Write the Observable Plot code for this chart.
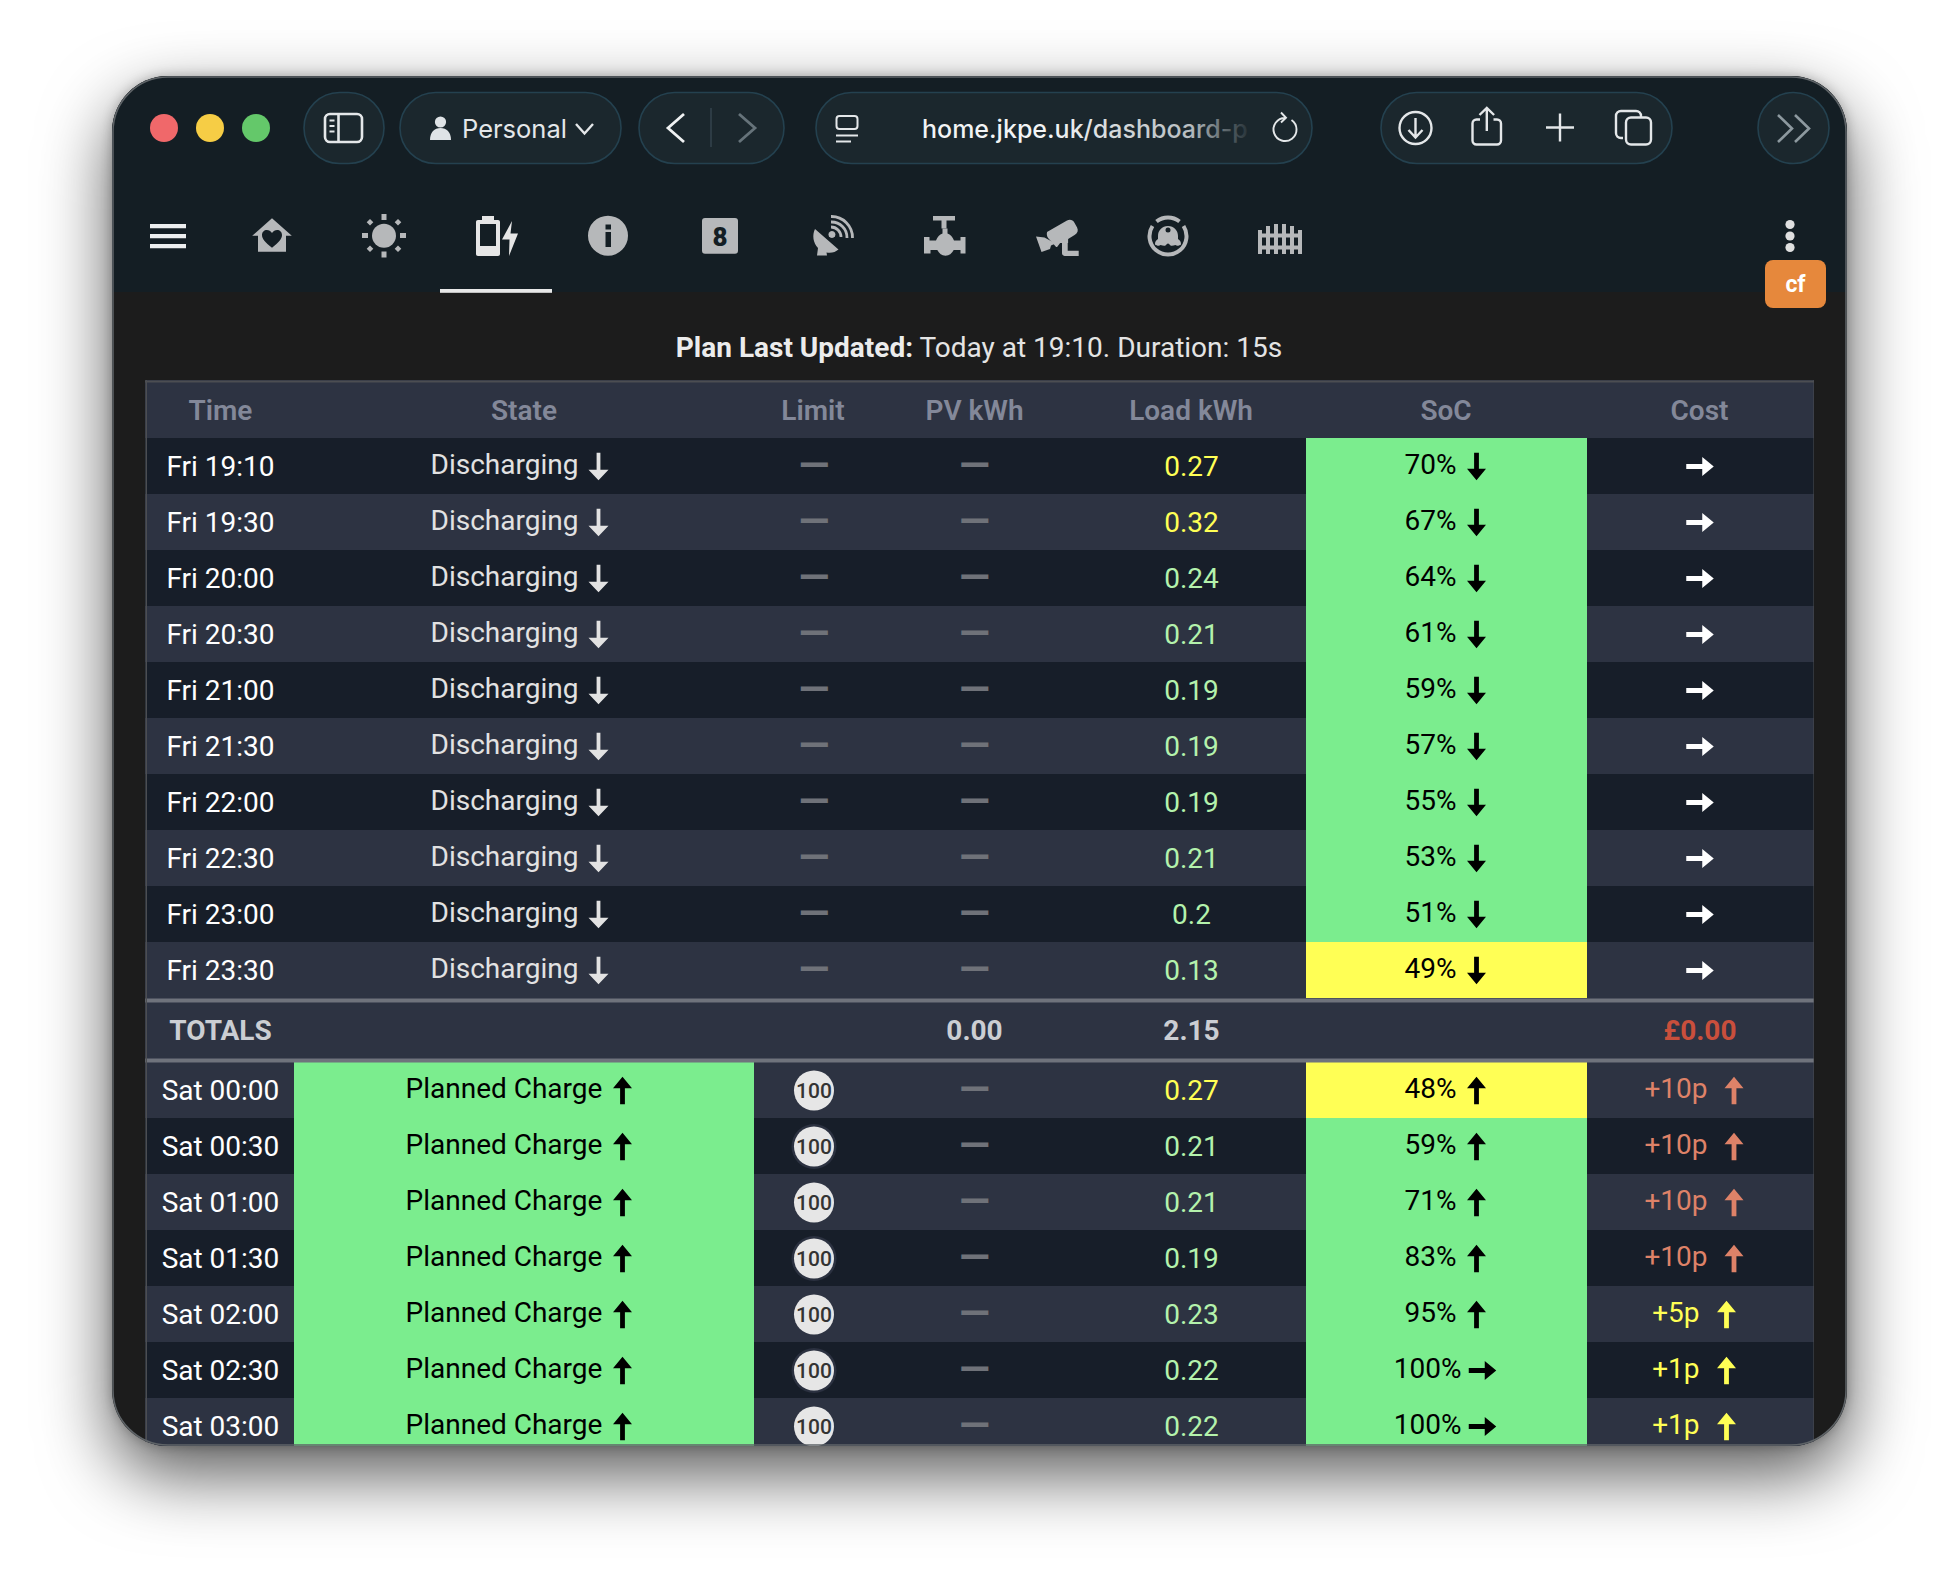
<!DOCTYPE html>
<html><head><meta charset="utf-8">
<script src="https://cdn.jsdelivr.net/npm/d3@7"></script>
<script src="https://cdn.jsdelivr.net/npm/@observablehq/plot@0.6"></script>
<style>
html,body{margin:0;padding:0;background:#fff;}
body{width:1958px;height:1594px;position:relative;overflow:hidden;font-family:Roboto,sans-serif;}
#win{position:absolute;left:112px;top:76px;width:1735px;height:1370px;border-radius:56px;background:#1c1c1c;
 box-shadow:0 28px 70px rgba(0,0,0,.66),0 0 12px rgba(0,0,0,.25);overflow:hidden;}
#chrome{position:absolute;left:0;top:0;pointer-events:none;}
#plan{position:absolute;left:0;width:1958px;top:328px;text-align:center;font-size:28px;line-height:40px;color:#e4e4e4;}
#plan b{font-weight:700;color:#ececec;}
#table{position:absolute;left:32.500px;top:304px;}
#table svg{display:block;}
#table g[aria-label="totals"]{filter:drop-shadow(0 2px 2px rgba(0,0,0,.65));}
</style></head><body>
<div id="win"><div id="table"></div></div>
<svg id="chrome" width="1958" height="1594" viewBox="0 0 1958 1594" font-family="Inter,Roboto,sans-serif">
 <defs>
  <linearGradient id="fade" gradientUnits="userSpaceOnUse" x1="1050" x2="1250" y1="0" y2="0"><stop offset="0" stop-color="#f2f4f5"/><stop offset=".35" stop-color="#d3d8da"/><stop offset=".7" stop-color="#b8bec1"/><stop offset="1" stop-color="#b8bec1" stop-opacity=".05"/></linearGradient>
  <clipPath id="wclip"><rect x="112" y="76" width="1735" height="1370" rx="56"/></clipPath>
 </defs>
 <g clip-path="url(#wclip)"><rect x="112" y="76" width="1735" height="216" fill="#141e24"/></g>
 <circle cx="164" cy="128" r="14" fill="#f0686a"/><circle cx="210" cy="128" r="14" fill="#f6cd45"/><circle cx="256" cy="128" r="14" fill="#64c86a"/>
 <g fill="#1b272d" stroke="#24414f" stroke-width="1.6">
  <rect x="304" y="92.5" width="80" height="71" rx="35.5"/><rect x="400" y="92.5" width="221" height="71" rx="35.5"/>
  <rect x="639" y="92.5" width="145" height="71" rx="35.5"/><rect x="816" y="92.5" width="496" height="71" rx="35.5"/>
  <rect x="1381" y="92.5" width="291" height="71" rx="35.5"/><rect x="1758" y="92.5" width="71" height="71" rx="35.5"/>
 </g>
 <!-- sidebar -->
 <g fill="none" stroke="#e4e7e9" stroke-width="2.6"><rect x="325" y="114" width="37" height="28" rx="5"/><path d="M338.5 114v28"/><path d="M329.5 120.5h5M329.5 126h5M329.5 131.5h5" stroke-width="2"/></g>
 <!-- personal -->
 <circle cx="440.5" cy="122" r="5.6" fill="#dfe3e6"/><path d="M430 140c0-8 4.500-12 10.500-12s10.500 4 10.500 12z" fill="#dfe3e6"/>
 <text x="462" y="138" font-size="25.500" fill="#e4e7e9" font-family="Inter">Personal</text>
 <path d="M576 124l8.500 9.500 8.500-9.500" fill="none" stroke="#e4e7e9" stroke-width="2.400"/>
 <path d="M684 114l-16 14 16 14" fill="none" stroke="#f0f2f3" stroke-width="2.800"/>
 <path d="M711 108v39" stroke="#33424b" stroke-width="1.600"/>
 <path d="M739 114l16 14-16 14" fill="none" stroke="#66737a" stroke-width="2.800"/>
 <!-- site -->
 <g fill="none" stroke="#e4e7e9" stroke-width="2"><rect x="836.500" y="116" width="21" height="13" rx="3"/><path d="M836 135.500h22M836 141.500h15"/></g>
 <text x="922" y="138" font-size="25" fill="url(#fade)" font-family="Inter" font-weight="500">home.jkpe.uk/dashboard-p</text>
 <path d="M1291.500 120A11.500 11.500 0 1 1 1285 118M1281 112.500l5 5.300-5 4.700" fill="none" stroke="#e4e7e9" stroke-width="1.900"/>
 <!-- actions -->
 <g fill="none" stroke="#e4e7e9" stroke-width="2.400">
  <circle cx="1415.500" cy="128" r="16"/><path d="M1415.500 118v19M1408.500 130l7 7.500 7-7.500"/>
  <path d="M1480 119.500h-3.500a4 4 0 0 0-4 4v17a4 4 0 0 0 4 4h20.500a4 4 0 0 0 4-4v-17a4 4 0 0 0-4-4h-3.500M1486.800 131v-23M1479.500 115l7.300-7 7.300 7"/>
  <path d="M1546 127.500h28M1560 113.500v28"/>
  <rect x="1626" y="117.500" width="25" height="27" rx="5"/><path d="M1623 138h-2a5 5 0 0 1-5-5v-17a5 5 0 0 1 5-5h15a5 5 0 0 1 5 5v1"/>
 </g>
 <path d="M1778 115l14 13.500-14 13.500M1795 115l14 13.500-14 13.500" fill="none" stroke="#8d999f" stroke-width="2.600"/>
 <!-- hamburger -->
 <path d="M150 224h36v4.200h-36zM150 234h36v4.200h-36zM150 244h36v4.200h-36z" fill="#eceeef"/>
 <!-- nav icons -->
 <g fill="#b6b8ba">
  <path fill-rule="evenodd" d="M272 218.300l19.800 17.500h-5.800v16h-28v-16h-5.800zM272 247.700c-7-5.500-10-9-10-12.700 0-3 2.200-5 4.900-5 2 0 3.800 1.200 5.100 3 1.300-1.800 3.100-3 5.100-3 2.700 0 4.900 2 4.900 5 0 3.700-3 7.200-10 12.700z"/>
  <circle cx="384" cy="235.700" r="12"/>
  <path d="M381.500 214h5v6h-5zM381.500 251.500h5v6h-5zM362 233h6v5h-6zM400 233h6v5h-6zM370 219l3.300 3.300-3.300 3.300-3.300-3.300zM398 219l3.300 3.300-3.300 3.300-3.300-3.300zM370 245.500l3.300 3.300-3.300 3.300-3.300-3.300zM398 245.500l3.300 3.300-3.300 3.300-3.300-3.300z"/>
  <path fill-rule="evenodd" d="M588 235.700a20 20 0 1 1 40 0a20 20 0 1 1-40 0zM605.500 224.500h5.500v5h-5.500zM605.500 232h5.500v15h-5.500z"/>
  <rect x="702" y="218" width="36" height="35.700" rx="3"/>
  <!-- satellite -->
  <path d="M815 229c-3 6-2 14 3 19l-1 7.500h10l-.5-3c5 1 9-.5 12-3z"/>
  <path d="M832 231a3.500 3.500 0 1 1-.1 0z"/>
 </g>
 <g fill="none" stroke="#b6b8ba" stroke-width="2.800">
  <path d="M829 225a10 10 0 0 1 10 10M829 220a15.500 15.500 0 0 1 16 16M829 214.500a21 21 0 0 1 21.500 21.500" transform="translate(2 2)"/>
 </g>
 <text x="720" y="245.500" text-anchor="middle" font-family="Roboto" font-weight="900" font-size="26" fill="#141e24">8</text>
 <g fill="#b6b8ba">
  <!-- valve -->
  <path d="M933 216h22v4.500h-8.500v8h-5v-8H933z"/>
  <path d="M924 237h5.500v3.500h6.500c1.500-3.500 3.500-6 6.500-7v-5h5v5c3 1 5 3.500 6.500 7h6.500V237h5v16.500h-5V250h-6.800c-1.700 3.500-4.700 5.700-8.200 5.700s-6.500-2.200-8.200-5.700h-6.800v3.500H924z"/>
  <!-- camera -->
  <path d="M1036 236.500l8.500 1 11 6-4.500 2-1 3.500-8.500 3z"/>
  <path d="M1047 232l20-11.500c3-1.500 6-.5 7.300 2l2.800 5c1.500 3 .5 5.500-2.500 7.500l-6.500 4v4h-8l-3 4-1 0-8-9c-1.500-2-1.500-4.500-1-6z"/>
  <path d="M1062 241h5.700v9.700h11v5.200h-14c-1.500 0-2.700-1.200-2.700-2.700z"/>
 </g>
 <!-- robot -->
 <g fill="none" stroke="#b6b8ba" stroke-width="4">
  <path d="M1156.500 221.500a18.500 18.500 0 0 1 23 0M1183.500 226A18.500 18.500 0 1 1 1152.500 226"/>
 </g>
 <path d="M1168 226c6 0 10 4.500 10 10v3c2.500 1.500 3 3 3 5.500-1.500 1-4 2-5.500.5-2 .5-3.500 1-5 .5-1-1-1.500-2-2.500-2s-1.500 1-2.500 2c-1.500.5-3 0-5-.5-1.500 1.500-4 .5-5.500-.5 0-2.500.5-4 3-5.500v-3c0-5.500 4-10 10-10z" fill="#b6b8ba"/>
 <circle cx="1168" cy="230" r="2.500" fill="#141e24"/>
 <!-- fence -->
 <g fill="#b6b8ba">
  <rect x="1258" y="230" width="4" height="24"/><rect x="1266" y="226" width="4" height="28"/><rect x="1274" y="224" width="4" height="30"/>
  <rect x="1282" y="224" width="4" height="30"/><rect x="1290" y="226" width="4" height="28"/><rect x="1298" y="230" width="4" height="24"/>
  <rect x="1258" y="233.500" width="44" height="4"/><rect x="1258" y="245.500" width="44" height="4"/>
 </g>
 <!-- battery -->
 <path fill="#e6e6e6" fill-rule="evenodd" d="M482 216h12v4h4c1.200 0 2 .8 2 2v32c0 1.200-.8 2-2 2h-20c-1.200 0-2-.8-2-2v-32c0-1.200.8-2 2-2h4zM480 224v22h16v-22z"/>
 <path fill="#e6e6e6" d="M512 221l-10 18.500h7.500l-.5 16.500 9-22.500h-7.500z"/>
 <rect x="440" y="289" width="112" height="3.800" fill="#e8e8e8"/>
 <circle cx="1790" cy="224.500" r="4.600" fill="#e0e0e0"/><circle cx="1790" cy="236" r="4.600" fill="#e0e0e0"/><circle cx="1790" cy="247.500" r="4.600" fill="#e0e0e0"/>
</svg>
<div id="plan"><b>Plan Last Updated:</b> Today at 19:10. Duration: 15s</div>
<svg id="badge" width="1958" height="1594" viewBox="0 0 1958 1594" style="position:absolute;left:0;top:0;pointer-events:none">
 <rect x="113" y="77" width="1733" height="1368" rx="55" fill="none" stroke="#5f6468" stroke-width="1.5"/>
 <rect x="1765" y="260" width="61" height="48" rx="8" fill="#e6883c"/>
 <text x="1795.500" y="292" text-anchor="middle" font-family="Roboto" font-weight="700" font-size="23" fill="#fff">cf</text>
</svg>
<script>
// ---- chart data ----
const columnTitles = ["Time", "State", "Limit", "PV kWh", "Load kWh", "SoC", "Cost"];
const friTimes = ["Fri 19:10","Fri 19:30","Fri 20:00","Fri 20:30","Fri 21:00","Fri 21:30","Fri 22:00","Fri 22:30","Fri 23:00","Fri 23:30"];
const friLoad = ["0.27","0.32","0.24","0.21","0.19","0.19","0.19","0.21","0.2","0.13"];
const friSoc = [70,67,64,61,59,57,55,53,51,49];
const satTimes = ["Sat 00:00","Sat 00:30","Sat 01:00","Sat 01:30","Sat 02:00","Sat 02:30","Sat 03:00"];
const satLoad = ["0.27","0.21","0.21","0.19","0.23","0.22","0.22"];
const satSoc = [48,59,71,83,95,100,100];
const satCost = [10,10,10,10,5,1,1];
const satLimit = [100,100,100,100,100,100,100];
const totalsLabel = "TOTALS", totalPv = "0.00", totalLoad = "2.15", totalCost = "£0.00";

// ---- table layout, in table pixels ----
const W = 1669.5, H = 1066;
const colX = {time:75, state:379, limit:668.5, pv:829, load:1046, soc:1300.5, cost:1554.5};
const colEdge = {state0:149, state1:609, soc0:1161, soc1:1442};
const HEAD = 58, ROW = 56, SEP = 4;
const friTop = i => HEAD + i * ROW;
const totTop = friTop(10) + SEP;
const satTop = i => totTop + ROW + SEP + i * ROW;

const rows = [
  ...friTimes.map((t,i) => ({section:"fri", t, top:friTop(i), load:friLoad[i], soc:friSoc[i], dir:180, shade:i%2===0})),
  ...satTimes.map((t,i) => ({section:"sat", t, top:satTop(i), load:satLoad[i], soc:satSoc[i], dir:satSoc[i]===100?90:0, cost:satCost[i], limit:satLimit[i], shade:i%2===1}))
];
rows.forEach(r => {r.mid = r.top + ROW/2; r.bot = r.top + ROW;});
const dark = "#171e29", light = "#2d3342", green = "#7bed8e", yellow = "#ffff55";
const socFill = s => (s > 49 ? green : yellow);
const arrowShape = {draw(c,l,r){const s=2.4,h=11.5;
  c.moveTo(0,-l);c.lineTo(r,-l+h);c.lineTo(s,-l+h);c.lineTo(s,0);c.lineTo(-s,0);c.lineTo(-s,-l+h);c.lineTo(-r,-l+h);c.closePath();}};
const thinArrowShape = {draw(c,l,r){const s=1.9,h=10.5;
  c.moveTo(0,-l);c.lineTo(r,-l+h);c.lineTo(s,-l+h);c.lineTo(s,0);c.lineTo(-s,0);c.lineTo(-s,-l+h);c.lineTo(-r,-l+h);c.closePath();}};
const costColor = p => p >= 10 ? "#de8268" : "#ffff55";
const socTextEnd = r => r.dir===90 ? 1316 : 1311;
const socArrowX = r => r.dir===90 ? 1337 : 1331;
const costTextEnd = r => r.cost>=10 ? 1562 : 1554;
const costArrowX = r => r.cost>=10 ? 1588.5 : 1581;
const titleX = [colX.time,378.5,667.5,829,1045.5,1300.5,1554];
const fri = rows.filter(r=>r.section==="fri"), sat = rows.filter(r=>r.section==="sat");
const font = {fontFamily:"Roboto", fontSize:28, lineAnchor:"middle"};
const dashStyle = {fill:"#6f7279",fontWeight:700,fontFamily:"Roboto",fontSize:40,lineAnchor:"middle"};
const dash = "—";
const NUDGE = 0.5;

const chart = Plot.plot({
  width:W, height:H, margin:0, style:{background:"transparent", fontFamily:"Roboto"},
  x:{domain:[0,W], range:[0,W], axis:null},
  y:{domain:[0,H], range:[0,H], axis:null},
  color:{type:"threshold", domain:[0.25], range:["#b4f2ac","#ffff55"]},
  marks:[
    // row bands
    Plot.rect([0],{x1:0,x2:W,y1:0,y2:H,fill:light}),
    Plot.rect(rows,{x1:0,x2:W,y1:"top",y2:"bot",fill:r=>r.shade?dark:light}),
    Plot.rect(sat,{x1:colEdge.state0,x2:colEdge.state1,y1:"top",y2:"bot",fill:green}),
    Plot.rect(rows,{x1:colEdge.soc0,x2:colEdge.soc1,y1:"top",y2:"bot",fill:r=>socFill(r.soc)}),
    // separators and table border
    Plot.ruleY([friTop(10)+SEP/2,totTop+ROW+SEP/2],{stroke:"#6f737c",strokeWidth:SEP}),
    Plot.ruleY([1],{stroke:"#4c4e52",strokeWidth:2}),
    Plot.ruleX([0.75],{stroke:"#4c4e52",strokeWidth:1.5}),
    Plot.ruleX([W-0.75],{stroke:"#4c4e52",strokeWidth:1.5}),
    // header
    Plot.text(columnTitles,{x:(d,i)=>titleX[i],y:()=>30,text:d=>d,fill:"#838899",fontWeight:600,dy:NUDGE,...font}),
    // time
    Plot.text(rows,{x:()=>colX.time,y:"mid",text:"t",fill:"#fff",dy:NUDGE,...font}),
    // state
    Plot.text(fri,{x:()=>285,y:"mid",text:()=>"Discharging",fill:"#e2e2e2",textAnchor:"start",dy:NUDGE-2,...font}),
    Plot.vector(fri,{x:()=>453,y:"mid",rotate:180,length:27.5,r:10,shape:thinArrowShape,fill:"#e2e2e2",stroke:"none"}),
    Plot.text(sat,{x:()=>260,y:"mid",text:()=>"Planned Charge",fill:"#000",textAnchor:"start",dy:NUDGE-2,...font}),
    Plot.vector(sat,{x:()=>477,y:"mid",rotate:0,length:27.5,r:9.5,shape:arrowShape,fill:"#000",stroke:"none"}),
    // limit
    Plot.text(fri,{x:()=>colX.limit,y:"mid",text:()=>dash,...dashStyle}),
    Plot.dot(sat.filter(r=>r.shade),{x:()=>colX.limit,y:"mid",r:22.5,fill:"#2b3140",stroke:"none"}),
    Plot.dot(sat,{x:()=>colX.limit,y:"mid",r:20,fill:"#e6e6e6",stroke:"none"}),
    Plot.text(sat,{x:()=>colX.limit,y:"mid",text:"limit",fill:"#333",fontWeight:500,fontFamily:"Roboto",fontSize:21,lineAnchor:"middle",dy:NUDGE}),
    // pv
    Plot.text(rows,{x:()=>colX.pv,y:"mid",text:()=>dash,...dashStyle}),
    // load
    Plot.text(rows,{x:()=>colX.load,y:"mid",text:"load",fill:r=>+r.load,dy:NUDGE,...font}),
    // soc
    Plot.text(rows,{x:socTextEnd,y:"mid",text:r=>r.soc+"%",fill:"#000",textAnchor:"end",dy:NUDGE-2,...font}),
    Plot.vector(rows,{x:socArrowX,y:"mid",rotate:"dir",length:27.5,r:9.5,shape:arrowShape,fill:"#000",stroke:"none"}),
    // cost
    Plot.vector(fri,{x:()=>colX.cost,y:"mid",rotate:90,length:27.5,r:9.5,shape:arrowShape,fill:"#fff",stroke:"none"}),
    Plot.text(sat,{x:costTextEnd,y:"mid",text:r=>"+"+r.cost+"p",fill:r=>costColor(r.cost),textAnchor:"end",dy:NUDGE-2,...font}),
    Plot.vector(sat,{x:costArrowX,y:"mid",rotate:0,length:27.5,r:9.5,shape:arrowShape,fill:r=>costColor(r.cost),stroke:"none"}),
    // totals
    Plot.text([totalsLabel,totalPv,totalLoad],{ariaLabel:"totals",x:(d,i)=>[colX.time,colX.pv,colX.load][i],y:()=>totTop+ROW/2,text:d=>d,fill:"#cbced3",fontWeight:700,dy:NUDGE,...font}),
    Plot.text([totalCost],{ariaLabel:"totals",x:()=>colX.cost,y:()=>totTop+ROW/2,text:d=>d,fill:"#c94f3c",fontWeight:700,dy:NUDGE,...font})
  ]
});
document.getElementById("table").appendChild(chart);
</script>
</body></html>
